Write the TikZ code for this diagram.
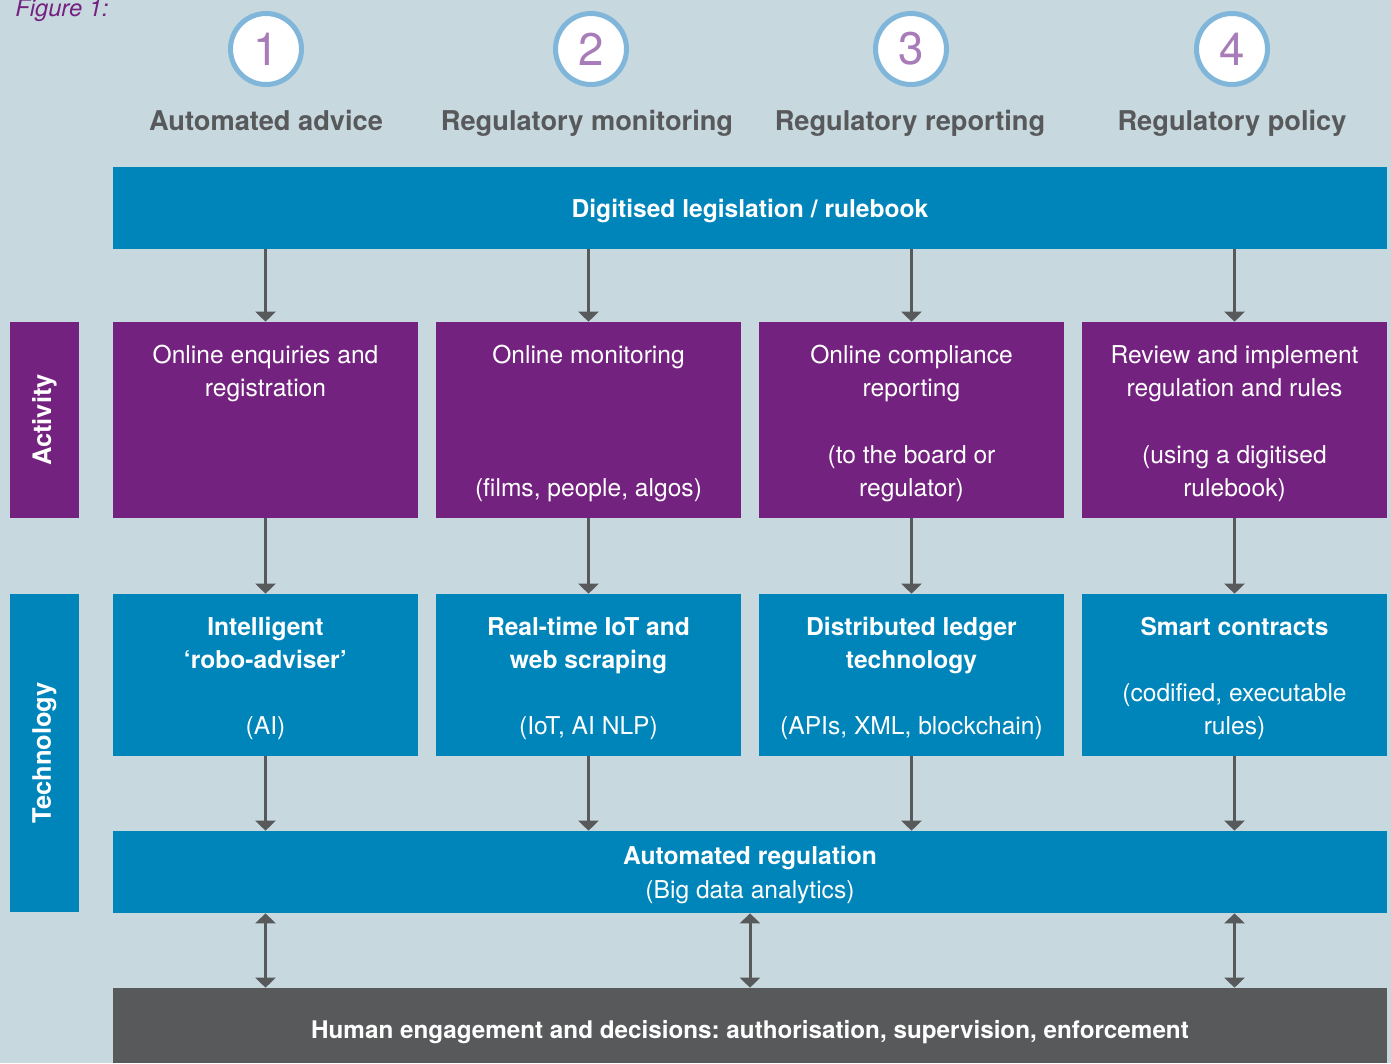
\documentclass[tikz,border=0pt]{standalone}
\usepackage{fontspec}
\setmainfont{TeX Gyre Heros}
\usetikzlibrary{arrows.meta}
\frenchspacing

\definecolor{panebg}{HTML}{C7D8DF}
\definecolor{regblue}{HTML}{0085BA}
\definecolor{actpurple}{HTML}{74227F}
\definecolor{darkgrey}{HTML}{58595B}
\definecolor{ringblue}{HTML}{80B6D9}
\definecolor{numpurple}{HTML}{A77CB9}

% tall first line so every box starts its text at the same height
\newcommand{\lead}{\rule{0pt}{17pt}}

\begin{document}
\begin{tikzpicture}[x=0.02cm,y=-0.02cm,
  bar/.style={fill=regblue,text=white,minimum width=25.48cm,minimum height=1.64cm,inner sep=0pt,align=center,font=\fontsize{14}{19.3}\selectfont},
  actbox/.style={fill=actpurple,text=white,minimum width=6.1cm,minimum height=3.92cm,inner sep=0pt,align=center,font=\fontsize{14}{18.9}\selectfont},
  techbox/.style={actbox,fill=regblue,minimum height=3.24cm},
  sidebox/.style={rotate=90,minimum height=1.38cm,inner sep=0pt,text=white,font=\fontsize{14.5}{17}\selectfont\bfseries},
  stage/.style={circle,draw=ringblue,line width=0.1cm,fill=white,minimum size=1.42cm,inner sep=0pt,text=numpurple,font=\fontsize{26}{26}\selectfont},
  heading/.style={anchor=base,text=darkgrey,font=\fontsize{15.5}{18}\selectfont\bfseries},
  link/.style={draw=darkgrey,line width=0.06cm,-{Triangle[width=0.4cm,length=0.2cm]}},
  twoway/.style={draw=darkgrey,line width=0.06cm,{Triangle[width=0.4cm,length=0.2cm]}-{Triangle[width=0.4cm,length=0.2cm]}}]

\useasboundingbox (0,0) rectangle (1391,1063);
\fill[panebg] (0,0) rectangle (1391,1063);
\node[anchor=base west,inner sep=0pt,text=actpurple,font=\fontsize{13.5}{15}\selectfont\itshape] (fig) at (15,16) {Figure 1:};

\node[stage] (s1) at (266,49) {1};
\node[stage] (s2) at (591,49) {2};
\node[stage] (s3) at (911,49) {3};
\node[stage] (s4) at (1232,49) {4};
\node[heading] (h1) at (266,130) {Automated advice};
\node[heading] (h2) at (587,130) {Regulatory monitoring};
\node[heading] (h3) at (910,130) {Regulatory reporting};
\node[heading] (h4) at (1232,130) {Regulatory policy};

\node[bar] (rulebook) at (750,208) {\lead\textbf{Digitised legislation / rulebook}\strut};

\node[sidebox,fill=actpurple,minimum width=3.92cm] (activity) at (44.5,420) {Activity};
\node[sidebox,fill=regblue,minimum width=6.36cm] (technology) at (44.5,753) {Technology};

\node[actbox] (act1) at (265.5,420) {\lead Online enquiries and\\registration\\\strut\\\strut\\\strut};
\node[actbox] (act2) at (588.5,420) {\lead Online monitoring\\\strut\\\strut\\\strut\\(films, people, algos)\strut};
\node[actbox] (act3) at (911.5,420) {\lead Online compliance\\reporting\\\strut\\(to the board or\\regulator)\strut};
\node[actbox] (act4) at (1234.5,420) {\lead Review and implement\\regulation and rules\\\strut\\(using a digitised\\rulebook)\strut};

\node[techbox] (tech1) at (265.5,675) {\lead\textbf{Intelligent}\\\textbf{‘robo-adviser’}\\\strut\\(AI)\strut};
\node[techbox] (tech2) at (588.5,675) {\lead\textbf{Real-time IoT and}\\\textbf{web scraping}\\\strut\\(IoT, AI NLP)\strut};
\node[techbox] (tech3) at (911.5,675) {\lead\textbf{Distributed ledger}\\\textbf{technology}\\\strut\\(APIs, XML, blockchain)\strut};
\node[techbox] (tech4) at (1234.5,675) {\lead\textbf{Smart contracts}\\\strut\\(codified, executable\\rules)\strut};

\node[bar] (autoreg) at (750,872) {\lead\textbf{Automated regulation}\\(Big data analytics)\strut};
\node[bar,fill=darkgrey,minimum height=1.5cm,font=\fontsize{13.8}{19}\selectfont] (human) at (750,1025.5) {\rule{0pt}{21pt}\textbf{Human engagement and decisions: authorisation, supervision, enforcement}\strut};

\draw[link] (act1 |- rulebook.south) -- (act1.north);
\draw[link] (act2 |- rulebook.south) -- (act2.north);
\draw[link] (act3 |- rulebook.south) -- (act3.north);
\draw[link] (act4 |- rulebook.south) -- (act4.north);

\draw[link] (act1.south) -- (tech1.north);
\draw[link] (act2.south) -- (tech2.north);
\draw[link] (act3.south) -- (tech3.north);
\draw[link] (act4.south) -- (tech4.north);

\draw[link] (tech1.south) -- (tech1 |- autoreg.north);
\draw[link] (tech2.south) -- (tech2 |- autoreg.north);
\draw[link] (tech3.south) -- (tech3 |- autoreg.north);
\draw[link] (tech4.south) -- (tech4 |- autoreg.north);

\draw[twoway] (act1 |- autoreg.south) -- (act1 |- human.north);
\draw[twoway] (autoreg.south) -- (human.north);
\draw[twoway] (act4 |- autoreg.south) -- (act4 |- human.north);
\end{tikzpicture}
\end{document}
